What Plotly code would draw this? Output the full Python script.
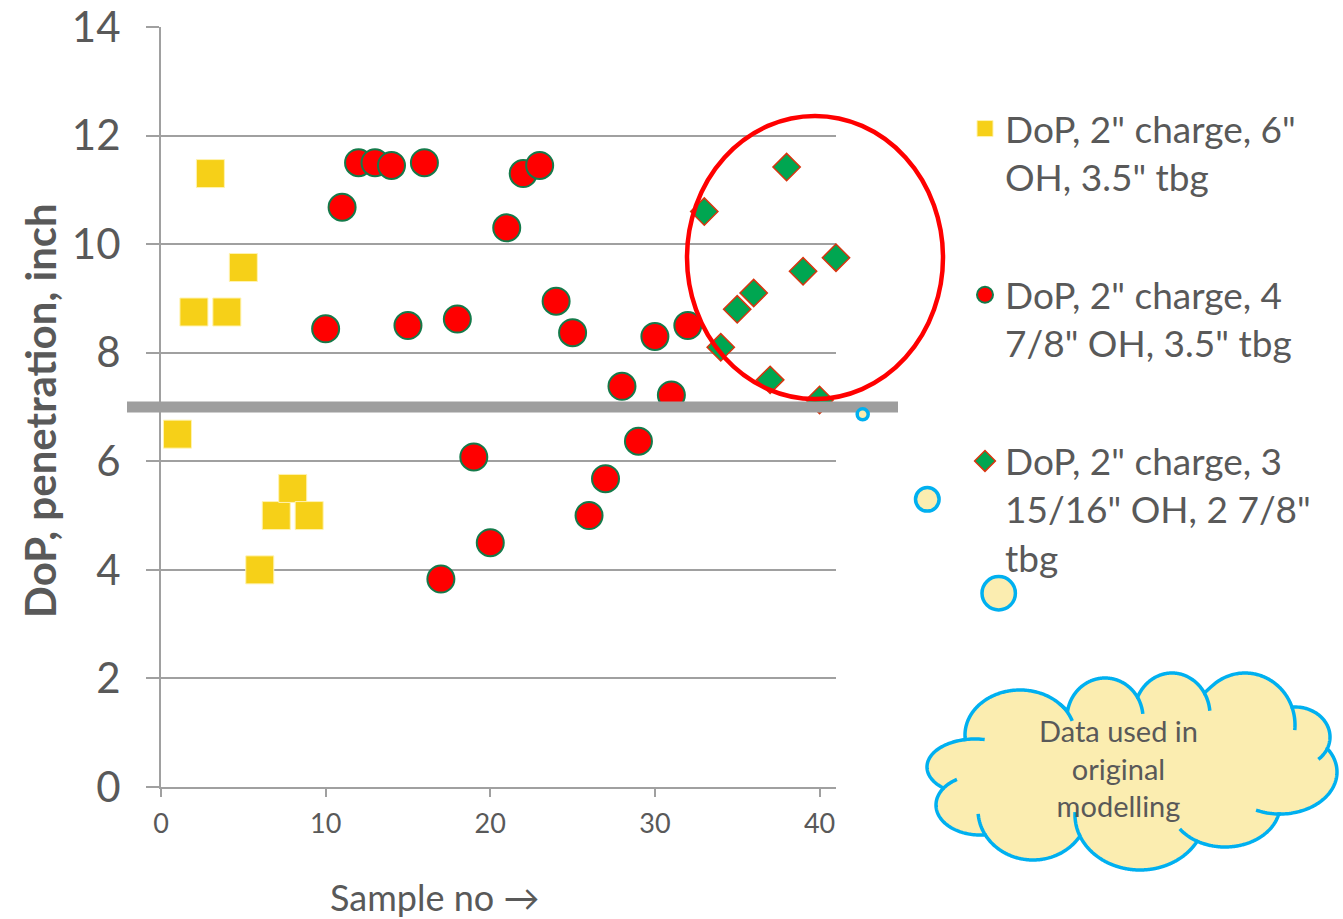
import numpy as np
import plotly.graph_objects as go

# Depth of penetration (inch) by sample number for each charge / hole / tubing set-up
sample_6oh = [1, 2, 3, 4, 5, 6, 7, 8, 9]
dop_6oh = [6.5, 8.75, 11.3, 8.75, 9.57, 4.0, 5.0, 5.5, 5.0]

sample_478oh = list(range(10, 33))
dop_478oh = [8.44, 10.68, 11.5, 11.5, 11.45, 8.5, 11.5, 3.83, 8.62, 6.08, 4.5,
             10.3, 11.3, 11.45, 8.95, 8.37, 5.0, 5.68, 7.38, 6.37, 8.3, 7.22, 8.5]

sample_31516oh = list(range(33, 42))
dop_31516oh = [10.6, 8.1, 8.8, 9.1, 7.5, 11.42, 9.5, 7.13, 9.75]

series_names = [
    'DoP, 2" charge, 6"<br>OH, 3.5" tbg',
    'DoP, 2" charge, 4<br>7/8" OH, 3.5" tbg',
    'DoP, 2" charge, 3<br>15/16" OH, 2 7/8"<br>tbg',
]
x_ticks = [0, 10, 20, 30, 40]
y_ticks = [0, 2, 4, 6, 8, 10, 12, 14]
x_range = [0, 41]
y_range = [0, 14]
threshold_dop = 7
cloud_text = "Data used in<br>original<br>modelling"

# ---- page geometry -------------------------------------------------------
W, H = 1343, 919
ML, MR, MT, MB = 161, 507, 27, 132
PW, PH = W - ML - MR, H - MT - MB
BOTTOM = H - MB
FONT = "Lato"
TXT = "#595959"
GRID = "#A0A0A0"


def px(xp):
    return (xp - ML) / PW


def py(yp):
    return (BOTTOM - yp) / PH


fig = go.Figure()
fig.add_trace(go.Scatter(
    x=sample_6oh, y=dop_6oh, mode="markers", name=series_names[0],
    legendgroup="a", cliponaxis=False,
    marker=dict(symbol="square", size=28, color="#F6D018",
                line=dict(color="#FFF3B0", width=1))))
fig.add_trace(go.Scatter(
    x=sample_478oh, y=dop_478oh, mode="markers", name=series_names[1],
    legendgroup="b", cliponaxis=False,
    marker=dict(symbol="circle", size=27, color="#FF0000",
                line=dict(color="#147A4A", width=2))))
fig.add_trace(go.Scatter(
    x=sample_31516oh, y=dop_31516oh, mode="markers", name=series_names[2],
    legendgroup="c", cliponaxis=False,
    marker=dict(symbol="diamond", size=21, color="#00A651",
                line=dict(color="#D8340F", width=1.5))))

shapes = []

# horizontal reference line at the threshold depth
y7 = (threshold_dop - y_range[0]) / (y_range[1] - y_range[0])
shapes.append(dict(type="line", xref="paper", yref="paper",
                   x0=px(127), x1=px(898), y0=y7, y1=y7,
                   line=dict(color="#9E9E9E", width=11), layer="above"))

# red ellipse round the last group
shapes.append(dict(type="circle", xref="paper", yref="paper",
                   x0=px(687), x1=px(943), y0=py(399), y1=py(116),
                   line=dict(color="#FF0000", width=4.5), layer="above"))

# ---- cloud callout built from overlapping lobes ---------------------------
lobes = [  # cx, cy, rx, ry in page pixels
    (1020, 735, 55, 45), (1105, 718, 38, 40), (1172, 715, 38, 42),
    (1245, 725, 50, 52), (1295, 737, 35, 30), (1280, 772, 57, 42),
    (1225, 805, 55, 42), (1140, 815, 65, 55), (1033, 810, 55, 50),
    (980, 805, 44, 30), (975, 767, 48, 28), (1130, 770, 150, 55),
]
c0 = np.array([1130.0, 770.0])
angles = np.linspace(-np.pi, np.pi, 1441)[:-1]
pts, owner = [], []
for th in angles:
    d = np.array([np.cos(th), np.sin(th)])
    best, who = 0.0, -1
    for k, (cx, cy, rx, ry) in enumerate(lobes):
        u, v = (c0[0] - cx) / rx, (c0[1] - cy) / ry
        du, dv = d[0] / rx, d[1] / ry
        a = du * du + dv * dv
        b = u * du + v * dv
        c = u * u + v * v - 1
        disc = b * b - a * c
        if disc >= 0:
            t = (-b + np.sqrt(disc)) / a
            if t > best:
                best, who = t, k
    pts.append(c0 + best * d)
    owner.append(who)

outline = "M " + " L ".join(f"{px(p[0]):.5f},{py(p[1]):.5f}" for p in pts) + " Z"
shapes.append(dict(type="path", xref="paper", yref="paper", path=outline,
                   fillcolor="#FBEDB0", line=dict(color="#00B0F0", width=3.5),
                   layer="above"))

# short inner strokes where one lobe runs on past the next
inner = []
n = len(pts)
for i in range(n):
    k, k_next = owner[i], owner[(i + 1) % n]
    if k != k_next and k != len(lobes) - 1:
        cx, cy, rx, ry = lobes[k]
        p = pts[i]
        phi0 = np.arctan2((p[1] - cy) / ry, (p[0] - cx) / rx)
        phis = np.linspace(phi0, phi0 + 0.45, 12)
        seg = [(cx + rx * np.cos(f), cy + ry * np.sin(f)) for f in phis]
        inner.append("M " + " L ".join(f"{px(a):.5f},{py(b):.5f}" for a, b in seg))
if inner:
    shapes.append(dict(type="path", xref="paper", yref="paper", path=" ".join(inner),
                       line=dict(color="#00B0F0", width=3.5), layer="above"))

# thought-bubble trail
for (cx, cy, r) in [(862.7, 414.3, 5.5), (927.3, 499.3, 11.8), (998.7, 593.3, 16.7)]:
    shapes.append(dict(type="circle", xref="paper", yref="paper",
                       x0=px(cx - r), x1=px(cx + r), y0=py(cy + r), y1=py(cy - r),
                       fillcolor="#FBEDB0", line=dict(color="#00B0F0", width=3.5),
                       layer="above"))

annotations = [
    dict(text="<b>DoP, penetration, inch</b>", xref="paper", yref="paper",
         x=px(40), y=py(411), xanchor="center", yanchor="middle",
         showarrow=False, textangle=-90,
         font=dict(family=FONT, size=42, color=TXT)),
    dict(text="Sample no →", xref="paper", yref="paper",
         x=px(434), y=py(897), xanchor="center", yanchor="middle",
         showarrow=False, font=dict(family=FONT, size=36, color=TXT)),
    dict(text=cloud_text, xref="paper", yref="paper",
         x=px(1118), y=py(768), xanchor="center", yanchor="middle",
         showarrow=False, font=dict(family=FONT, size=29, color=TXT)),
]

fig.update_layout(
    width=W, height=H,
    margin=dict(l=ML, r=MR, t=MT, b=MB, pad=0, autoexpand=False),
    paper_bgcolor="white", plot_bgcolor="white",
    shapes=shapes, annotations=annotations,
    font=dict(family=FONT, color=TXT),
    showlegend=True,
    legend=dict(x=px(965), y=py(98), xanchor="left", yanchor="top",
                font=dict(family=FONT, size=37, color=TXT),
                tracegroupgap=67, valign="top", bgcolor="rgba(0,0,0,0)"),
    xaxis=dict(range=x_range, tickvals=x_ticks, showgrid=False, zeroline=False,
               showline=True, linecolor=GRID, linewidth=2,
               ticks="outside", ticklen=8, tickwidth=2, tickcolor=GRID,
               ticklabelstandoff=4,
               tickfont=dict(family=FONT, size=27, color=TXT)),
    yaxis=dict(range=y_range, tickvals=y_ticks, showgrid=True, gridcolor=GRID,
               gridwidth=2, zeroline=False, showline=True, linecolor=GRID,
               linewidth=2, ticks="outside", ticklen=13, tickwidth=2,
               tickcolor=GRID, ticklabelstandoff=17,
               tickfont=dict(family=FONT, size=42, color=TXT)),
)

fig.write_html("out.html")
